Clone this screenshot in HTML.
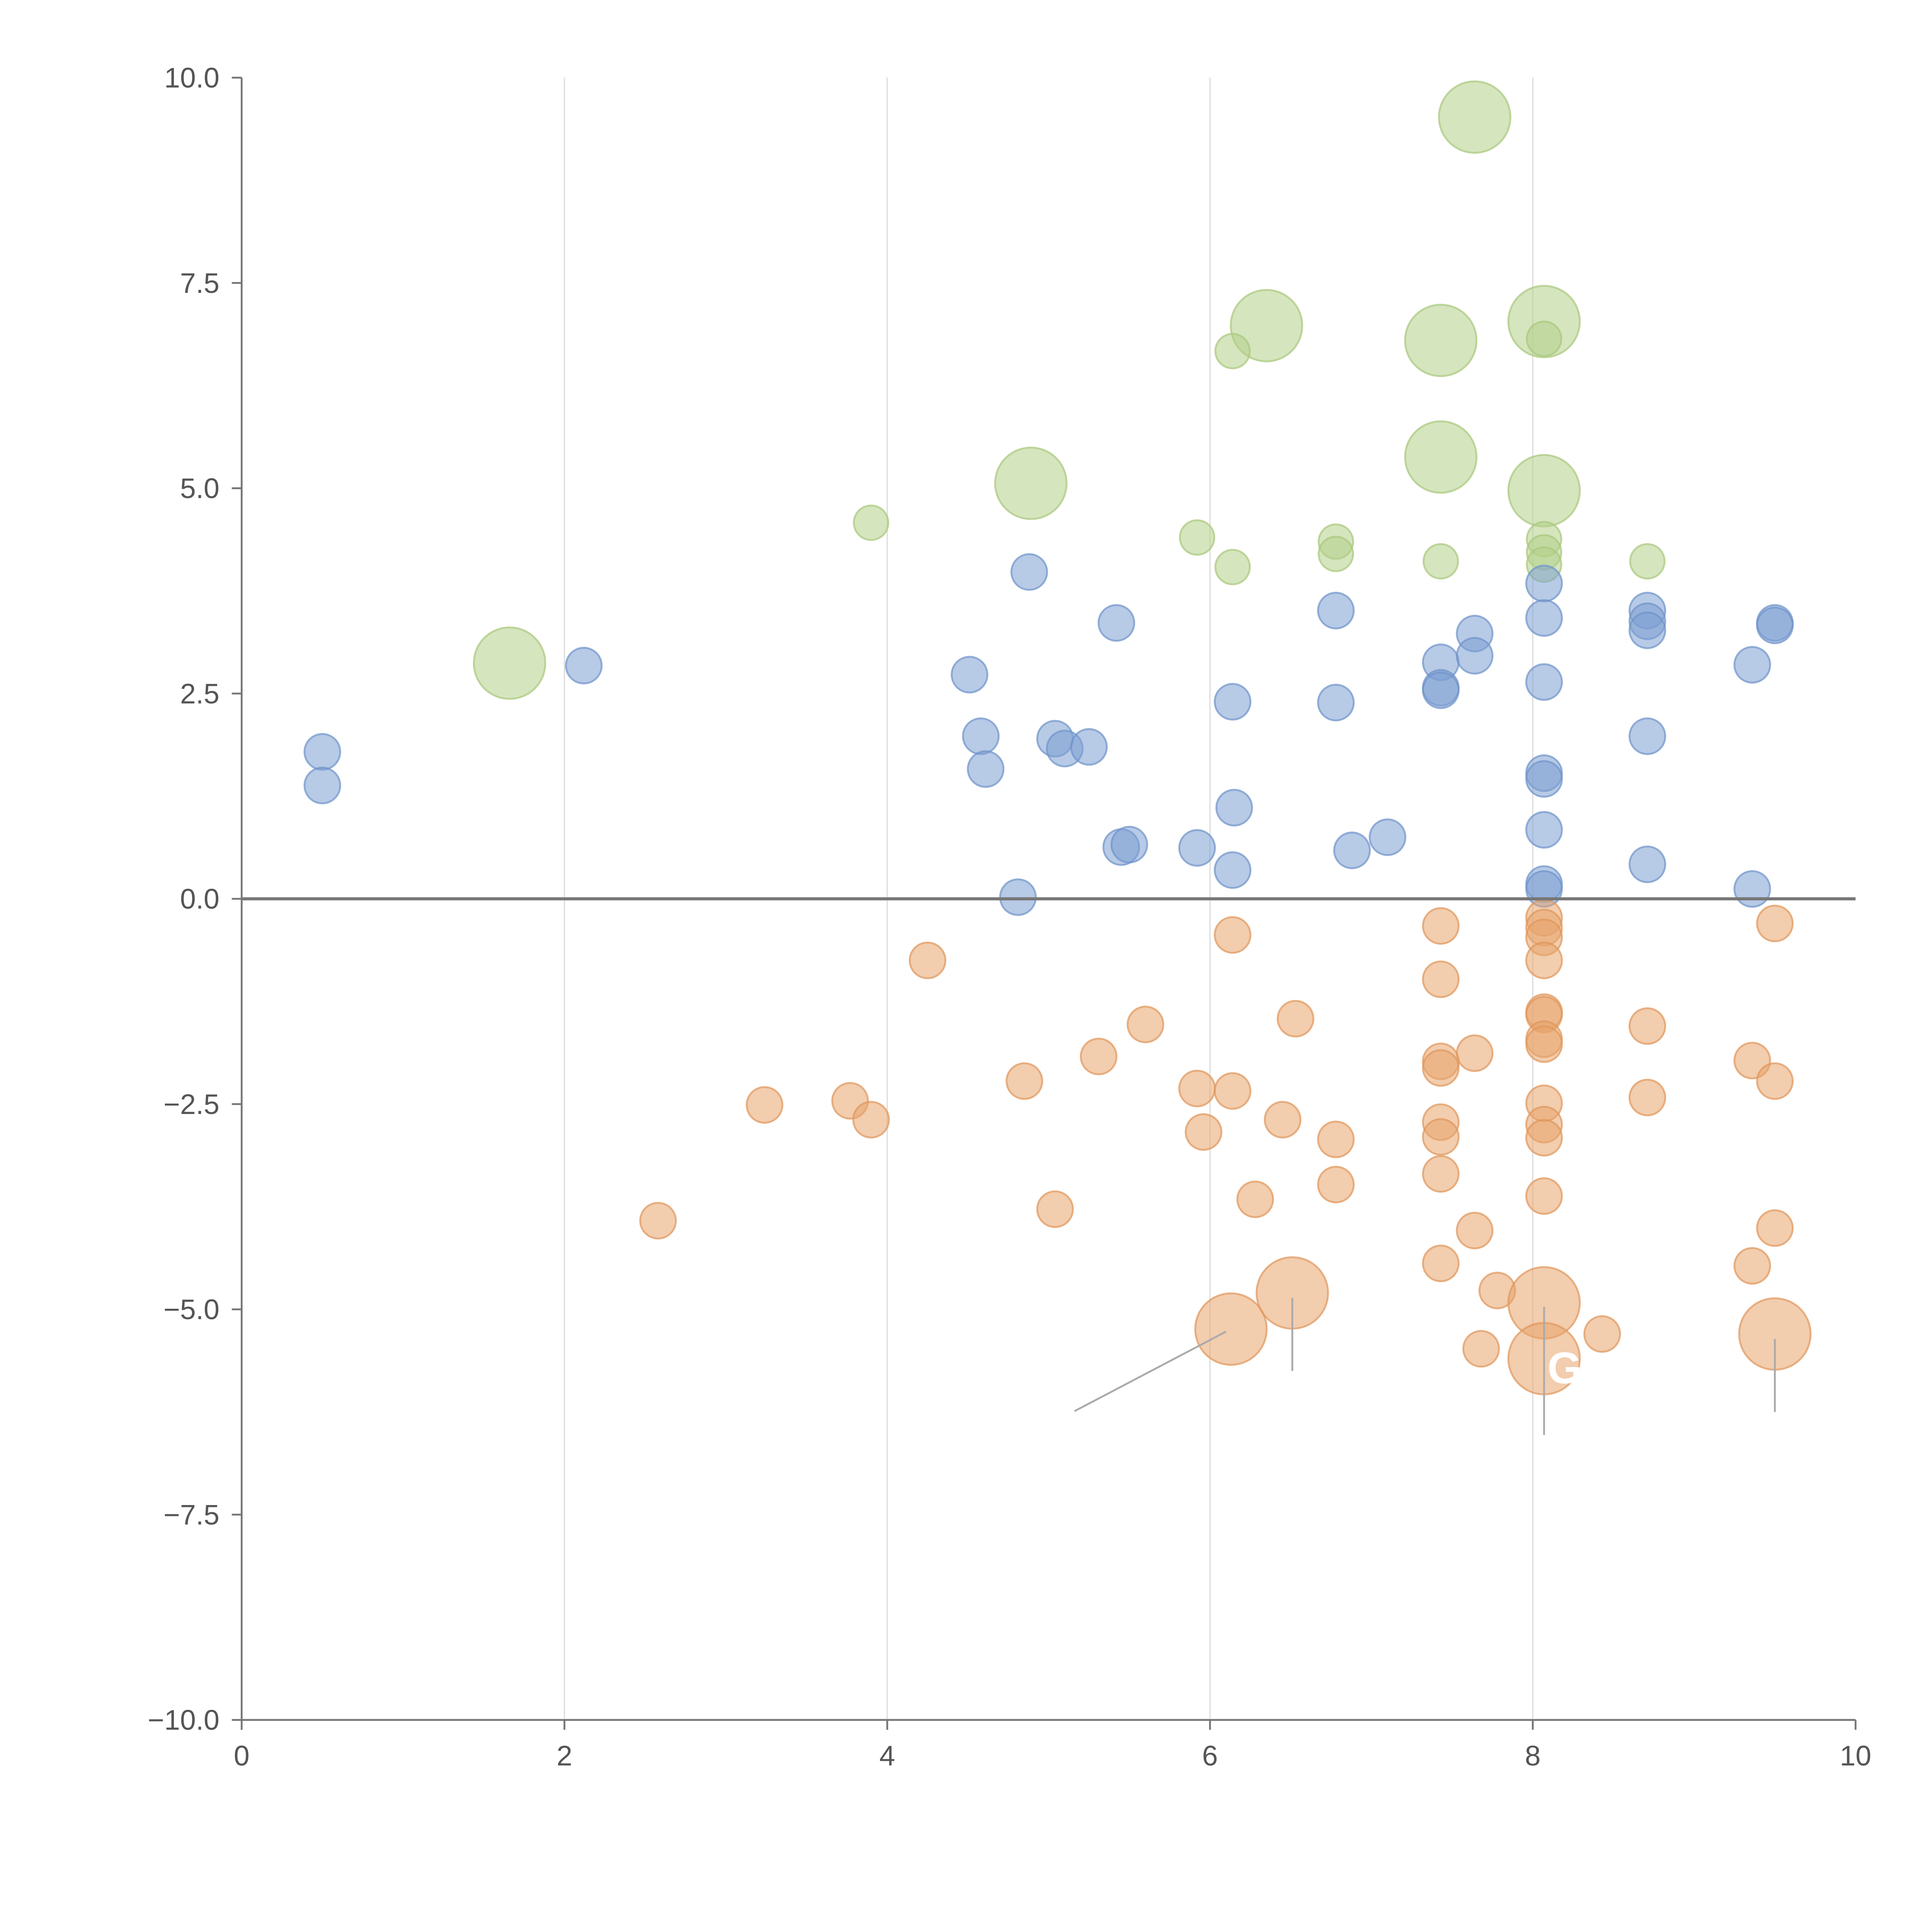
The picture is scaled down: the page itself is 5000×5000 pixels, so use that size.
<!DOCTYPE html>
<html><head><meta charset="utf-8"><style>html,body{margin:0;padding:0;background:#fff}svg{display:block}</style></head>
<body>
<svg id="chart" width="5000" height="5000" viewBox="0 0 1567 1567" xmlns="http://www.w3.org/2000/svg" font-family="Liberation Sans, sans-serif">
<g id="grid"></g>
<g id="marks"></g>
<g id="axes"></g>
</svg>
<script>
const xTicks=[0,2,4,6,8,10];
const yTicks=[-10,-7.5,-5,-2.5,0,2.5,5,7.5,10];
const blueX=[0.50,0.50,2.12,4.51,4.58,4.61,4.88,4.81,5.04,5.10,5.25,5.42,5.45,5.50,5.92,6.14,6.15,6.14,6.78,6.78,6.88,7.10,7.43,7.43,7.43,7.64,7.64,8.07,8.07,8.07,8.07,8.07,8.07,8.07,8.07,8.71,8.71,8.71,8.71,8.71,9.36,9.36,9.50,9.50];
const blueY=[1.79,1.38,2.84,2.73,1.98,1.58,3.98,0.02,1.95,1.83,1.85,3.36,0.63,0.66,0.62,2.40,1.11,0.35,3.51,2.39,0.59,0.75,2.88,2.57,2.54,3.23,2.96,3.84,3.42,2.64,1.53,1.46,0.84,0.18,0.12,3.51,3.38,3.27,1.98,0.42,2.85,0.12,3.36,3.33];
const greenX=[3.90,5.92,6.14,6.14,6.78,6.78,7.43,8.07,8.07,8.07,8.07,8.71];
const greenY=[4.58,4.40,4.04,6.67,4.35,4.20,4.11,6.82,4.38,4.22,4.07,4.11];
const greenBigX=[1.66,4.89,6.35,7.43,7.43,7.64,8.07,8.07];
const greenBigY=[2.87,5.06,6.98,6.80,5.38,9.52,7.03,4.97];
const orangeX=[4.25,3.24,3.77,3.90,2.58,4.85,5.04,5.31,5.60,5.92,5.96,6.14,6.14,6.28,6.45,6.53,6.78,6.78,7.43,7.43,7.43,7.43,7.43,7.43,7.43,7.43,7.64,7.64,7.68,7.78,8.07,8.07,8.07,8.07,8.07,8.07,8.07,8.07,8.07,8.07,8.07,8.07,8.43,8.71,8.71,9.36,9.36,9.50,9.50,9.50];
const orangeY=[-0.75,-2.51,-2.46,-2.69,-3.92,-2.22,-3.78,-1.92,-1.53,-2.31,-2.84,-0.44,-2.34,-3.66,-2.69,-1.46,-2.93,-3.48,-0.33,-0.98,-1.98,-2.06,-2.72,-2.90,-3.35,-4.44,-1.88,-4.04,-5.48,-4.77,-0.23,-0.35,-0.47,-0.75,-1.38,-1.41,-1.71,-1.77,-2.49,-2.75,-2.91,-3.62,-5.30,-1.55,-2.42,-1.97,-4.47,-0.30,-2.22,-4.01];
const orangeBigX=[6.13,6.51,8.07,8.07,9.50];
const orangeBigY=[-5.24,-4.80,-4.92,-5.60,-5.30];

const NS="http://www.w3.org/2000/svg";
const sx=v=>196+(v/10)*1309;
const sy=v=>729-(v/10)*666;
function mk(tag,attrs,parent){const e=document.createElementNS(NS,tag);for(const k in attrs)e.setAttribute(k,attrs[k]);parent.appendChild(e);return e;}
const grid=document.getElementById('grid'),marks=document.getElementById('marks'),axes=document.getElementById('axes');
xTicks.forEach(t=>{if(t>0&&t<10){const l=mk('line',{x1:sx(t),x2:sx(t),y1:sy(10),y2:sy(-10),stroke:'#dddddd','stroke-width':1},grid);

}});
function series(xs,ys,r,fill,stroke,name){xs.forEach((x,i)=>{const c=mk('circle',{cx:sx(x),cy:sy(ys[i]),r:r,fill:fill,'fill-opacity':0.55,stroke:stroke,'stroke-opacity':0.7,'stroke-width':1.5},marks);

});}
series(greenBigX,greenBigY,29,'#b3cf88','#a8c77a','bubble-green-large');
series(greenX,greenY,14,'#b3cf88','#a8c77a','bubble-green');
series(blueX,blueY,14.5,'#7c9fd1','#6d93c9','bubble-blue');
series(orangeX,orangeY,14.5,'#e8a46c','#e0955a','bubble-orange');
series(orangeBigX,orangeBigY,29,'#e8a46c','#e0955a','bubble-orange-large');
const leaders=[[5.16,-6.24,6.10,-5.27],[6.51,-4.86,6.51,-5.75],[8.07,-4.97,8.07,-6.53],[9.50,-5.36,9.50,-6.25]];
leaders.forEach(a=>{const l=mk('line',{x1:sx(a[0]),y1:sy(a[1]),x2:sx(a[2]),y2:sy(a[3]),stroke:'#aaaaaa','stroke-width':1.5},marks);

});
const lbl=mk('text',{x:1255,y:1122,fill:'#ffffff','font-size':36,'font-weight':'bold'},marks);lbl.textContent='G';


const z=mk('line',{x1:sx(0),x2:sx(10),y1:sy(0),y2:sy(0),stroke:'#777','stroke-width':2.5},axes);


const ya=mk('line',{x1:196,x2:196,y1:sy(10),y2:sy(-10),stroke:'#777','stroke-width':1.5},axes);


const xa=mk('line',{x1:196,x2:sx(10),y1:sy(-10),y2:sy(-10),stroke:'#777','stroke-width':1.5},axes);


yTicks.forEach(t=>{const y=sy(t);mk('line',{x1:188,x2:196,y1:y,y2:y,stroke:'#777','stroke-width':1.5},axes);
const tx=mk('text',{x:178,y:y+8,'text-anchor':'end','font-size':23,fill:'#555'},axes);tx.textContent=(t<0?'\u2212':'')+Math.abs(t).toFixed(1);

});
xTicks.forEach(t=>{const x=sx(t);mk('line',{x1:x,x2:x,y1:1395,y2:1403,stroke:'#777','stroke-width':1.5},axes);
const tx=mk('text',{x:x,y:1432,'text-anchor':'middle','font-size':23,fill:'#555'},axes);tx.textContent=String(t);

});
</script>
</body></html>
